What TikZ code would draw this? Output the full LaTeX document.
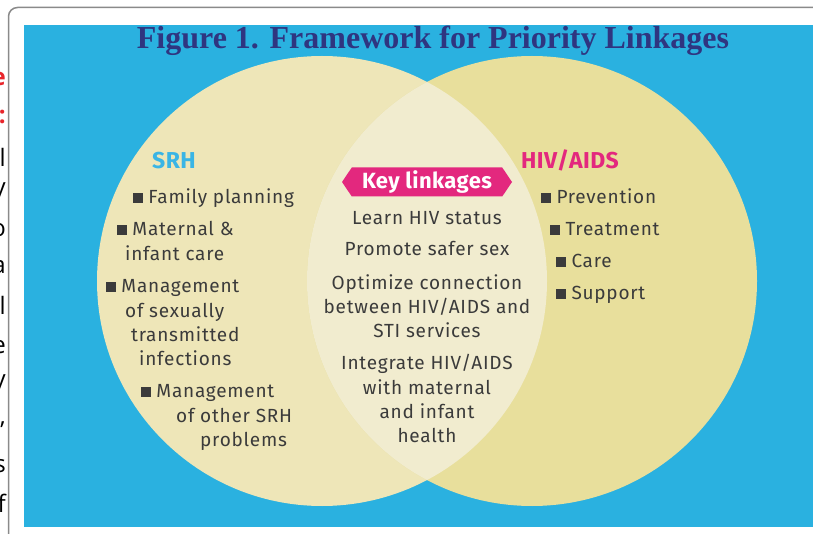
\documentclass[tikz,border=0pt]{standalone}
\usepackage{fontspec}
\setmainfont{Liberation Serif}
\newfontfamily\bodyfont[LetterSpace=4]{Fira Sans}
\newfontfamily\headfont[LetterSpace=2]{Fira Sans}
\newfontfamily\sidefont{Open Sans}
\usetikzlibrary{shapes.symbols}
\definecolor{bluebg}{HTML}{2AB1E0}
\definecolor{leftc}{HTML}{EEE6B8}
\definecolor{rightc}{HTML}{E8DF9C}
\definecolor{lensc}{HTML}{F1ECCF}
\definecolor{pinkc}{HTML}{E3287E}
\definecolor{srhc}{HTML}{3AB5E5}
\definecolor{txtc}{HTML}{3B3B3B}
\definecolor{navyc}{HTML}{2F3580}
\definecolor{framec}{HTML}{8A8A8A}
\definecolor{redc}{HTML}{E8252B}
\newcommand{\sqbul}{\rule[0.05em]{0.5em}{0.5em}}
\begin{document}
\begin{tikzpicture}[x=1pt,y=-1pt,
  txt/.style={font=\bodyfont\fontsize{19}{22}\selectfont, text=txtc, inner sep=0pt,
    text height=.72em, text depth=.2em, yshift=-4pt},
  lefttxt/.style={txt, anchor=west},
  midtxt/.style={txt, anchor=center},
  head/.style={font=\headfont\bfseries\fontsize{23}{26}\selectfont, inner sep=0pt,
    text height=.72em, text depth=.2em, anchor=west, yshift=-4pt},
  side/.style={font=\sidefont\fontsize{24}{28}\selectfont, text=black, inner sep=0pt, anchor=east},
  sidered/.style={side, font=\sidefont\bfseries\fontsize{24}{28}\selectfont, text=redc}]
\clip (0,0) rectangle (813,534);
\fill[white] (0,0) rectangle (813,534);

% cut-off margin of the surrounding page text
\node[sidered] (s1) at (6,79) {e};
\node[sidered] (s2) at (6,117) {:};
\node[side] (s3) at (6,157) {l};
\node[side] (s4) at (6,192) {y};
\node[side] (s5) at (6,230) {o};
\node[side] (s6) at (6,267) {a};
\node[side] (s7) at (6,305) {l};
\node[side] (s8) at (6,347) {e};
\node[side] (s9) at (6,384) {y};
\node[side] (s10) at (6,425) {,};
\node[side] (s11) at (6,466) {s};
\node[side] (s12) at (6,503) {f};

% figure frame and background
\draw[framec, line width=1.5pt, rounded corners=9pt] (8.5,7.5) rectangle (840,560);
\fill[bluebg] (24,25) rectangle (840,527);

% Venn circles
\fill[leftc] (322,281) circle [radius=225pt];
\fill[rightc] (532,281) circle [radius=225pt];
\begin{scope}
  \clip (322,281) circle [radius=225pt];
  \fill[lensc] (532,281) circle [radius=225pt];
\end{scope}

% title
\node[font=\bfseries\fontsize{32}{34}\selectfont, text=navyc, inner sep=0pt] (title) at (433,41)
  {Figure 1. Framework for Priority Linkages};

% SRH side
\node[head, text=srhc] (srh) at (152,162) {SRH};
\node[lefttxt] (l1) at (133,197) {\sqbul\ Family planning};
\node[lefttxt] (l2a) at (117,229) {\sqbul\ Maternal \&};
\node[lefttxt] (l2b) at (125,254) {infant care};
\node[lefttxt] (l3a) at (106,286) {\sqbul\ Management};
\node[lefttxt] (l3b) at (125,311) {of sexually};
\node[lefttxt] (l3c) at (131,335) {transmitted};
\node[lefttxt] (l3d) at (139,359) {infections};
\node[lefttxt] (l4a) at (141,391) {\sqbul\ Management};
\node[lefttxt] (l4b) at (176,416) {of other SRH};
\node[lefttxt] (l4c) at (200,440) {problems};

% key linkages
\node[signal, signal to=west and east, signal pointer angle=112, fill=pinkc, text=white,
  minimum width=170pt, minimum height=29pt, inner sep=0pt,
  font=\headfont\bfseries\fontsize{22}{26}\selectfont] (key) at (427,182) {Key linkages};
\node[midtxt] (k1) at (427,218) {Learn HIV status};
\node[midtxt] (k2) at (427,249) {Promote safer sex};
\node[midtxt] (k3a) at (427,283) {Optimize connection};
\node[midtxt] (k3b) at (427,307) {between HIV/AIDS and};
\node[midtxt] (k3c) at (427,331) {STI services};
\node[midtxt] (k4a) at (427,363) {Integrate HIV/AIDS};
\node[midtxt] (k4b) at (427,388) {with maternal};
\node[midtxt] (k4c) at (427,412) {and infant};
\node[midtxt] (k4d) at (427,436) {health};

% HIV/AIDS side
\node[head, text=pinkc] (hiv) at (521,162) {HIV/AIDS};
\node[lefttxt] (r1) at (541,197) {\sqbul\ Prevention};
\node[lefttxt] (r2) at (550,229) {\sqbul\ Treatment};
\node[lefttxt] (r3) at (556,261) {\sqbul\ Care};
\node[lefttxt] (r4) at (556,293) {\sqbul\ Support};
\end{tikzpicture}
\end{document}
